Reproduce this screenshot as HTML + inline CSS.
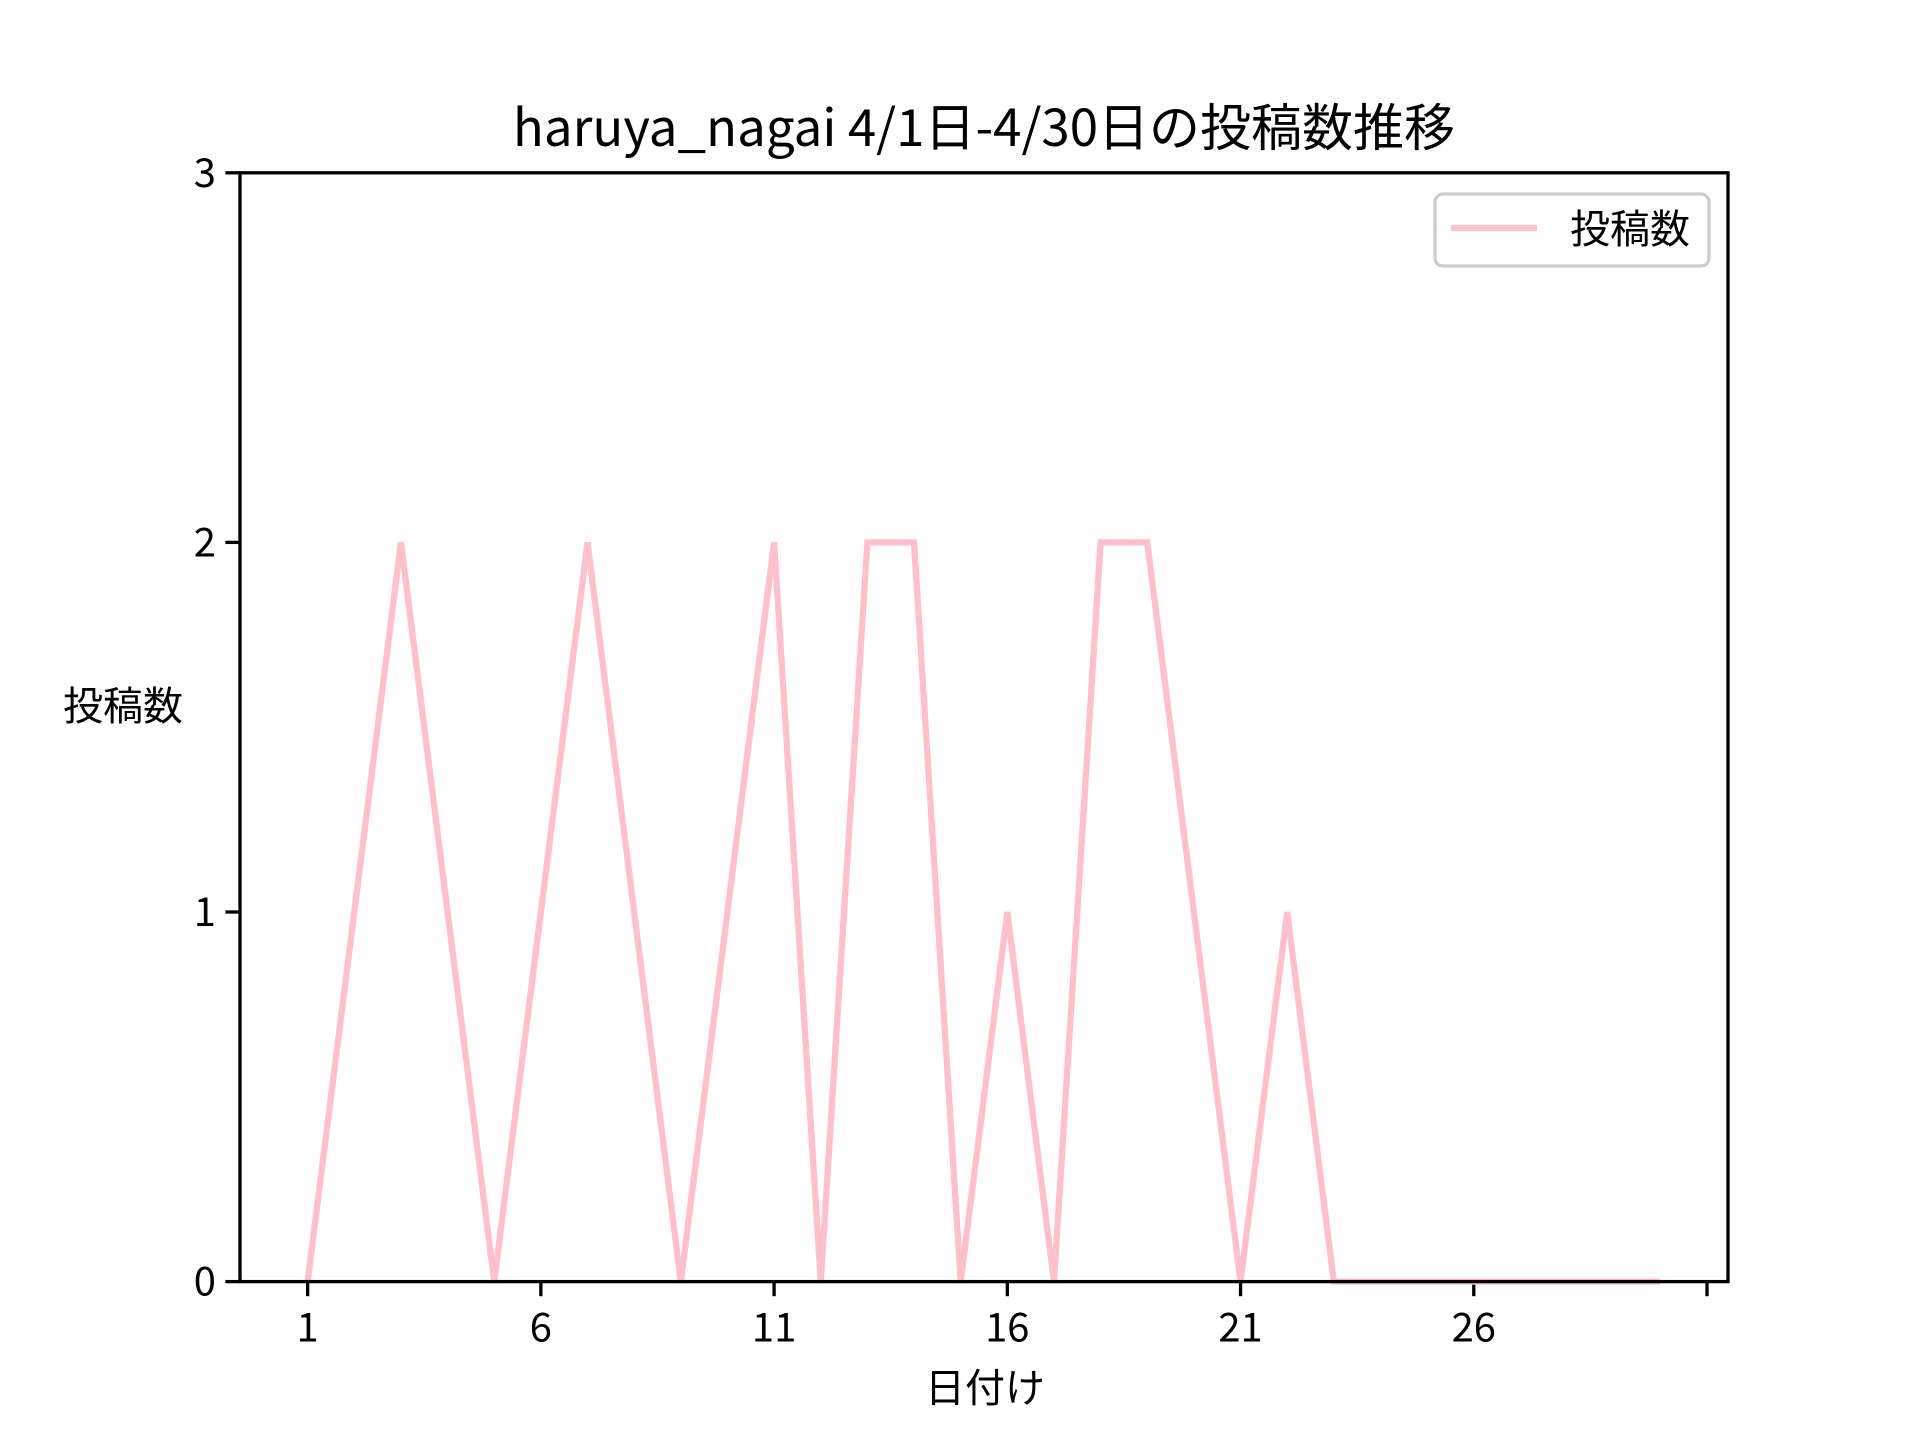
<!DOCTYPE html>
<html><head><meta charset="utf-8"><style>
body{margin:0;background:#fff;}
svg text{font-family:"Noto Sans CJK JP","Liberation Sans",sans-serif;fill:#000;}
</style></head><body>
<svg id="chart" width="1920" height="1440" viewBox="0 0 1920 1440" xmlns="http://www.w3.org/2000/svg">
<rect width="1920" height="1440" fill="#fff"/>
<text x="984" y="146" font-size="51" text-anchor="middle">haruya_nagai 4/1日-4/30日の投稿数推移</text>
<text x="123" y="720" font-size="40" text-anchor="middle">投稿数</text>
<text x="985" y="1402" font-size="40" text-anchor="middle">日付け</text>
<g id="ticks"></g>
<polyline id="series" fill="none" stroke="#ffc0cb" stroke-width="6.25" stroke-linejoin="miter"/>
<rect x="240" y="172.8" width="1488" height="1108.8" fill="none" stroke="#000" stroke-width="3.3"/>
<g>
<rect x="1435" y="194" width="274" height="72" rx="8" fill="#fff" fill-opacity="0.8" stroke="#ccc" stroke-width="3.3"/>
<line x1="1451" y1="228" x2="1537" y2="228" stroke="#ffc0cb" stroke-width="6.25"/>
<text x="1570" y="243" font-size="40">投稿数</text>
</g>
</svg>
<script>
const values=[0,1,2,1,0,1,2,1,0,1,2,0,2,2,0,1,0,2,2,1,0,1,0,0,0,0,0,0,0,0];
const xTicks=[0,5,10,15,20,25,30];
const xTickLabels=["1","6","11","16","21","26",""];
const yTicks=[0,1,2,3];
const L=240,R=1728,T=172.8,B=1281.6;
const xMin=-1.45,xMax=30.45,yMin=0,yMax=3;
const sx=v=>L+(v-xMin)/(xMax-xMin)*(R-L);
const sy=v=>B-(v-yMin)/(yMax-yMin)*(B-T);
const NS="http://www.w3.org/2000/svg";
const g=document.getElementById('ticks');
function mk(tag,attrs,txt){const e=document.createElementNS(NS,tag);for(const k in attrs)e.setAttribute(k,attrs[k]);if(txt!==undefined)e.textContent=txt;g.appendChild(e);return e;}
xTicks.forEach((t,i)=>{
 const l=mk('line',{x1:sx(t),x2:sx(t),y1:B,y2:B+14.6,stroke:'#000','stroke-width':3.3});
 
 
 const tx=mk('text',{x:sx(t),y:B+60,'font-size':40,'text-anchor':'middle'},xTickLabels[i]);
 
 
});
yTicks.forEach(t=>{
 const l=mk('line',{x1:L-14.6,x2:L,y1:sy(t),y2:sy(t),stroke:'#000','stroke-width':3.3});
 
 
 const tx=mk('text',{x:L-24,y:sy(t)+14,'font-size':40,'text-anchor':'end'},String(t));
 
 
});
document.getElementById('series').setAttribute('points',values.map((v,i)=>sx(i)+','+sy(v)).join(' '));
</script>
</body></html>
